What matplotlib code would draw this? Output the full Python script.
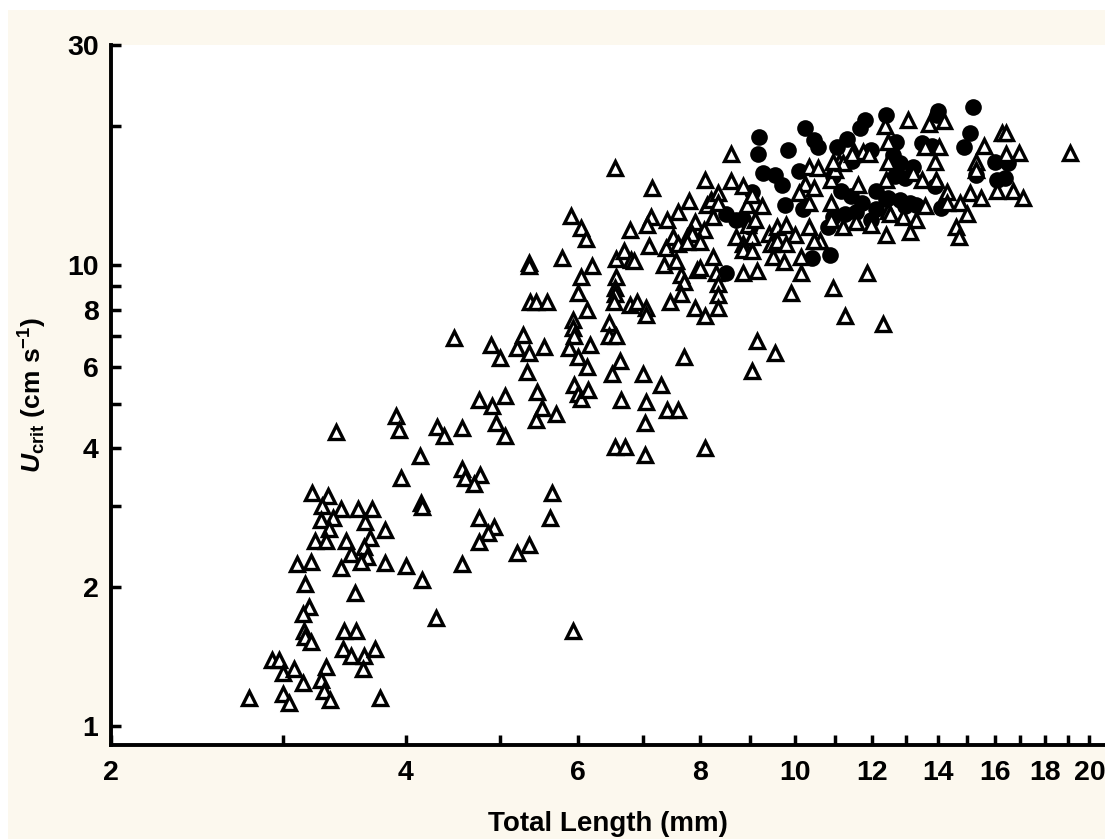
import matplotlib
matplotlib.use('Agg')
import matplotlib.pyplot as plt
from matplotlib.ticker import FixedLocator, FixedFormatter, NullFormatter
from matplotlib.patches import Rectangle

# (total length mm, Ucrit cm/s)
tri_pts = [
    # small larvae
    (3.40, 4.35), (3.91, 4.70), (3.94, 4.38), (4.31, 4.45), (4.38, 4.25), (4.57, 4.42), (4.95, 4.55), (5.05, 4.25),
    (4.14, 3.85), (3.96, 3.45), (4.57, 3.60), (4.60, 3.45), (4.77, 3.50), (4.70, 3.35),
    (3.21, 3.20), (3.33, 3.15), (3.29, 3.00), (3.44, 2.95), (3.37, 2.83), (3.28, 2.80), (3.58, 2.95), (3.70, 2.95),
    (3.64, 2.77), (3.34, 2.68), (3.81, 2.66), (3.23, 2.52), (3.32, 2.52), (3.48, 2.52), (3.68, 2.55), (3.63, 2.45),
    (3.52, 2.36), (3.65, 2.33), (3.60, 2.27), (3.10, 2.25), (3.20, 2.27), (3.44, 2.20), (3.81, 2.26), (4.00, 2.22),
    (4.16, 2.07), (4.57, 2.25), (3.16, 2.03), (3.55, 1.94), (3.19, 1.81), (3.14, 1.75), (4.30, 1.71), (3.15, 1.61),
    (3.16, 1.56), (3.20, 1.52), (3.46, 1.61), (3.56, 1.61), (3.45, 1.47), (3.52, 1.42), (3.63, 1.42), (3.72, 1.47),
    (3.62, 1.33), (2.92, 1.39), (2.97, 1.39), (3.00, 1.30), (3.08, 1.33), (3.14, 1.24), (3.32, 1.34), (3.28, 1.26),
    (3.30, 1.19), (3.35, 1.14), (2.77, 1.15), (3.00, 1.17), (3.04, 1.12), (3.77, 1.15),
    (5.20, 2.37), (4.75, 2.83), (4.93, 2.70), (4.86, 2.62), (4.76, 2.50), (4.15, 3.05), (4.16, 2.98),
    (5.65, 3.20), (5.62, 2.82), (5.35, 2.47), (5.93, 1.61),
    # middle sizes
    (5.35, 10.1), (5.35, 9.95), (5.78, 10.33), (6.20, 9.95), (6.04, 9.40), (6.00, 8.70), (5.36, 8.30), (5.44, 8.30),
    (5.58, 8.30), (6.13, 8.00), (6.56, 10.3), (6.69, 10.7), (6.80, 10.25), (6.85, 10.2), (6.57, 9.40), (6.55, 8.90),
    (6.55, 8.65), (6.53, 8.30), (6.78, 8.20), (6.90, 8.30), (7.04, 8.05), (7.05, 7.80), (7.10, 11.0), (7.35, 10.0),
    (7.38, 10.9), (7.56, 10.2), (7.65, 9.50), (7.70, 9.20), (7.65, 8.65), (7.45, 8.30), (7.90, 8.05), (7.95, 9.75),
    (5.93, 7.60), (5.93, 7.30), (5.95, 7.00), (5.88, 6.60), (6.00, 6.30), (6.17, 6.70), (6.13, 6.00), (6.45, 7.50),
    (6.45, 7.00), (6.57, 7.00), (6.50, 5.80), (6.62, 6.20), (7.00, 5.80), (7.30, 5.50), (7.70, 6.30), (6.65, 5.10),
    (7.05, 5.05), (7.02, 4.55), (7.40, 4.85), (7.60, 4.85), (6.55, 4.02), (6.70, 4.02), (7.02, 3.87), (4.48, 6.95),
    (4.89, 6.70), (5.00, 6.27), (5.27, 7.05), (5.20, 6.60), (5.35, 6.45), (5.54, 6.65), (5.32, 5.85), (5.45, 5.30),
    (5.52, 4.90), (5.70, 4.75), (5.44, 4.60), (5.95, 5.50), (6.00, 5.25), (6.04, 5.12), (6.15, 5.35),
    (4.76, 5.10), (4.90, 4.95), (5.05, 5.20), (8.10, 4.00), (9.05, 5.90),
    (6.55, 16.2), (7.15, 14.7), (5.90, 12.8), (6.04, 12.05), (6.12, 11.4), (6.79, 11.9), (7.12, 12.7), (7.06, 12.2),
    (7.40, 12.5), (7.60, 13.05), (7.80, 13.75), (8.10, 15.3), (7.90, 12.4), (8.13, 13.5), (8.08, 11.9), (7.50, 11.5),
    (7.75, 11.5), (7.60, 11.1), (7.90, 11.4),
    # larger fish
    (8.60, 17.4), (8.60, 15.2), (8.85, 14.8), (8.20, 13.8), (8.35, 14.3), (8.35, 13.6), (7.85, 11.7), (7.75, 11.2),
    (8.00, 11.2), (8.25, 12.7), (8.93, 13.5), (9.05, 14.2), (9.25, 13.4), (8.95, 12.2), (9.10, 12.5), (8.70, 11.5),
    (8.85, 11.1), (9.05, 11.5), (8.85, 10.8), (9.05, 10.7), (9.40, 11.7), (9.60, 12.1), (9.45, 11.1), (9.60, 11.25),
    (9.80, 12.2), (10.0, 11.6), (9.80, 11.1), (9.50, 10.4), (9.75, 10.15), (10.15, 10.4), (10.15, 9.60), (10.35, 12.1),
    (10.6, 11.25), (10.45, 11.25), (10.35, 16.3), (10.55, 16.2), (10.25, 15.0), (10.45, 14.65), (10.1, 14.3), (10.35, 13.6),
    (10.9, 15.3), (11.0, 16.1), (11.1, 16.7), (11.5, 17.6), (11.75, 17.6), (11.6, 14.9), (10.9, 13.6), (11.2, 16.6),
    (10.9, 12.5), (11.2, 12.1), (11.55, 12.4), (11.95, 12.2), (12.4, 15.3), (12.45, 13.1), (12.4, 11.6), (12.35, 20.0),
    (12.45, 18.5), (12.45, 16.7), (11.9, 17.4), (11.45, 17.4), (10.95, 16.7), (11.85, 9.60), (10.95, 8.90), (11.25, 7.75),
    (12.3, 7.45), (9.90, 8.70), (9.15, 6.85), (9.55, 6.45), (9.15, 9.70), (8.85, 9.60), (8.25, 10.4), (8.00, 9.85),
    (8.30, 9.60), (8.35, 9.10), (8.35, 8.60), (8.10, 7.75), (8.35, 8.05),
    (13.05, 20.6), (13.7, 20.2), (14.2, 20.5), (16.3, 19.3), (16.45, 19.3), (15.6, 18.1), (16.95, 17.5), (19.1, 17.5),
    (16.45, 17.4), (15.3, 16.7), (15.3, 16.1), (13.6, 18.0), (14.05, 18.0), (13.9, 16.7), (13.2, 15.8), (13.5, 15.3),
    (13.95, 15.3), (14.3, 14.4), (15.1, 14.3), (15.5, 14.0), (16.1, 14.5), (16.7, 14.5), (17.1, 14.0), (14.75, 13.6),
    (15.0, 12.9), (14.3, 13.6), (13.6, 13.4), (13.3, 12.5), (12.9, 12.7), (12.5, 12.9), (13.1, 11.8), (14.6, 12.1),
    (14.7, 11.5),
]

circ_pts = [
    (9.20, 18.9), (9.18, 17.4), (9.85, 17.8), (10.25, 19.8), (10.45, 18.7), (10.55, 18.0), (9.27, 15.8), (9.55, 15.7),
    (9.70, 14.9), (9.77, 13.5), (9.05, 14.4), (10.1, 16.0), (10.2, 13.2), (8.50, 12.9), (8.70, 12.5), (8.85, 12.6),
    (9.00, 12.1), (8.50, 9.60), (10.4, 10.35), (10.85, 10.5), (11.05, 18.0), (11.3, 18.8), (11.8, 20.6), (11.65, 19.8),
    (12.4, 21.2), (11.95, 17.8), (11.45, 16.8), (10.95, 15.6), (11.15, 14.5), (11.4, 14.1), (11.7, 13.6), (12.1, 14.5),
    (12.4, 13.9), (10.95, 12.7), (11.25, 12.9), (11.55, 13.0), (11.95, 12.5), (10.8, 12.1), (12.6, 17.3), (12.65, 15.6),
    (15.2, 22.0), (14.0, 21.6), (13.97, 21.1), (15.1, 19.3), (14.9, 18.0), (13.5, 18.4), (13.8, 18.1), (12.7, 18.5),
    (16.0, 16.7), (16.5, 16.6), (15.3, 15.7), (16.1, 15.3), (16.4, 15.4), (12.8, 16.6), (13.2, 16.3), (12.95, 15.4),
    (13.9, 14.8), (12.45, 14.0), (12.8, 13.8), (13.1, 13.6), (13.3, 13.5), (12.95, 13.4), (14.1, 13.3), (12.1, 13.2),
]

x_major = [2, 4, 6, 8, 10, 12, 14, 16, 18, 20]
x_minor = [3, 5, 7, 9, 11, 13, 15, 17, 19]
y_major = [1, 2, 4, 6, 8, 10, 30]
y_minor = [3, 5, 7, 9, 20]

tri_len = [p[0] for p in tri_pts]
tri_ucrit = [p[1] for p in tri_pts]
circ_len = [p[0] for p in circ_pts]
circ_ucrit = [p[1] for p in circ_pts]

plt.rcParams['font.family'] = ['Liberation Sans', 'DejaVu Sans']
plt.rcParams['font.weight'] = 'bold'
plt.rcParams['mathtext.fontset'] = 'custom'
plt.rcParams['mathtext.rm'] = 'Liberation Sans:bold'
plt.rcParams['mathtext.it'] = 'Liberation Sans:italic:bold'
plt.rcParams['mathtext.bf'] = 'Liberation Sans:bold'

fig = plt.figure(figsize=(11.05, 8.39), dpi=100)
fig.patch.set_facecolor('white')
fig.add_artist(Rectangle((8 / 1105, 0), 1, 1 - 10 / 839, transform=fig.transFigure,
                         facecolor='#fcf8ee', edgecolor='none', zorder=-10))

ax = fig.add_axes([111 / 1105, 1 - 745 / 839, 994 / 1105, 700 / 839])
ax.set_facecolor('white')
ax.set_xscale('log')
ax.set_yscale('log')

ax.plot(circ_len, circ_ucrit, 'o', color='black', ms=12, mew=0, zorder=2)
ax.plot(tri_len, tri_ucrit, '^', mfc='white', mec='black', ms=9.5, mew=2.4, zorder=3)

ax.set_xlim(2, 20.75)
ax.set_ylim(0.909, 30)

for s in ['top', 'right']:
    ax.spines[s].set_visible(False)
for s in ['left', 'bottom']:
    ax.spines[s].set_linewidth(2.8)

ax.xaxis.set_major_locator(FixedLocator(x_major))
ax.xaxis.set_major_formatter(FixedFormatter([str(v) for v in x_major]))
ax.xaxis.set_minor_locator(FixedLocator(x_minor))
ax.xaxis.set_minor_formatter(NullFormatter())
ax.yaxis.set_major_locator(FixedLocator(y_major))
ax.yaxis.set_major_formatter(FixedFormatter([str(v) for v in y_major]))
ax.yaxis.set_minor_locator(FixedLocator(y_minor))
ax.yaxis.set_minor_formatter(NullFormatter())

ax.tick_params(which='both', direction='in', length=7, width=2.5, labelsize=20.5)
ax.tick_params(axis='x', pad=11)
ax.tick_params(axis='y', pad=9)

ax.set_xlabel('Total Length (mm)', fontsize=20, fontweight='bold')
ax.xaxis.set_label_coords(0.5, -0.094)
ax.set_ylabel(r'$U_{\mathrm{crit}}$ (cm s$^{\mathrm{-1}}$)', fontsize=19, fontweight='bold')
ax.yaxis.set_label_coords(-0.062, 0.5)

fig.savefig('out.png', dpi=100, facecolor=fig.get_facecolor())
